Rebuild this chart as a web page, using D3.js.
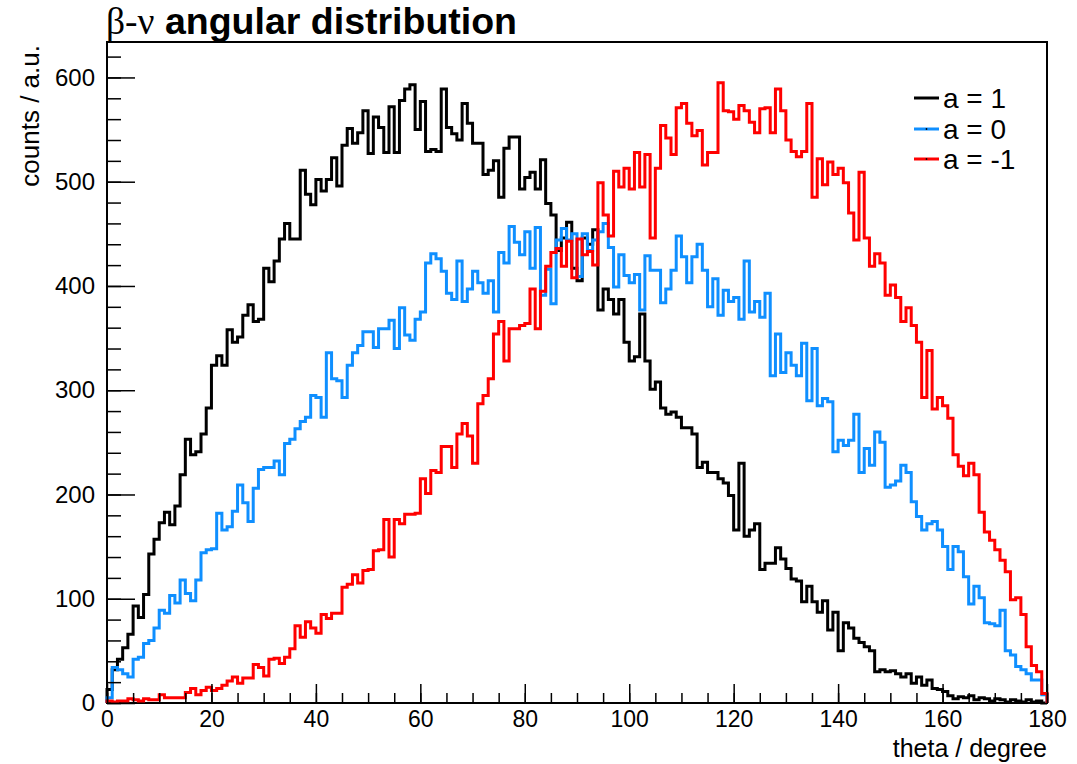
<!DOCTYPE html>
<html>
<head>
<meta charset="utf-8">
<script src="https://cdn.jsdelivr.net/npm/d3@7"></script>
<style>
  html, body { margin: 0; padding: 0; background: #fff; }
  svg { display: block; }
  text { font-family: "Liberation Sans", Arial, Helvetica, sans-serif; fill: #000; }
</style>
</head>
<body>
<svg id="chart" width="1077" height="764"></svg>
<script>
// ---- data (180 bins of 1 degree, 0..180) ----
const binEdges = d3.range(0, 181, 1);
const xTicks = [0, 20, 40, 60, 80, 100, 120, 140, 160, 180];
const yTicks = [0, 100, 200, 300, 400, 500, 600];
const seriesNames = ["a = 1", "a = 0", "a = -1"];

const countsA1 = [
  13, 32, 42, 53, 66, 93, 82, 104, 143, 157, 173, 183, 171, 189, 219, 253, 238, 241, 258, 283,
  324, 333, 324, 358, 346, 351, 372, 382, 366, 368, 417, 404, 424, 445, 460, 445, 445, 511, 488, 478,
  502, 491, 502, 523, 496, 535, 551, 537, 547, 568, 527, 562, 552, 528, 572, 528, 578, 589, 593, 550,
  577, 529, 531, 529, 589, 552, 546, 540, 575, 556, 537, 537, 507, 511, 520, 485, 532, 543, 543, 493,
  504, 509, 493, 521, 479, 468, 434, 446, 461, 417, 405, 446, 440, 454, 377, 397, 387, 373, 387, 346,
  328, 332, 373, 328, 301, 308, 283, 277, 279, 274, 264, 264, 258, 226, 231, 221, 221, 215, 211, 199,
  166, 230, 160, 166, 172, 128, 134, 134, 149, 138, 129, 119, 117, 97, 112, 97, 87, 98, 70, 87,
  50, 77, 72, 62, 58, 54, 50, 30, 32, 30, 31, 28, 25, 28, 19, 25, 17, 22, 14, 13,
  11, 7, 4, 6, 5, 7, 3, 5, 4, 2, 4, 3, 1, 3, 2, 1, 3, 1, 2, 0
];
const countsA0 = [
  5, 34, 32, 28, 25, 42, 44, 57, 60, 72, 89, 86, 103, 96, 118, 105, 98, 118, 144, 147,
  148, 182, 166, 169, 184, 209, 192, 174, 206, 224, 226, 226, 232, 219, 249, 253, 263, 270, 274, 295,
  293, 274, 336, 311, 309, 293, 324, 336, 343, 356, 356, 341, 359, 359, 367, 340, 379, 353, 348, 368,
  375, 422, 431, 426, 414, 393, 387, 424, 385, 397, 414, 403, 393, 405, 375, 432, 422, 457, 442, 430,
  452, 417, 456, 391, 416, 383, 444, 455, 444, 450, 409, 450, 434, 444, 452, 460, 437, 399, 430, 410,
  403, 411, 377, 429, 415, 415, 384, 397, 415, 448, 428, 403, 428, 440, 415, 380, 407, 372, 396, 385,
  389, 368, 424, 375, 385, 370, 393, 314, 354, 317, 336, 324, 314, 345, 290, 340, 285, 292, 289, 241,
  252, 247, 252, 277, 221, 244, 228, 260, 250, 207, 209, 213, 228, 221, 193, 179, 166, 172, 174, 166,
  150, 128, 150, 145, 121, 95, 112, 101, 77, 76, 74, 89, 50, 46, 35, 32, 28, 22, 22, 8
];
const countsAm1 = [
  2, 1, 2, 2, 4, 3, 2, 4, 3, 3, 8, 5, 5, 5, 5, 10, 14, 8, 12, 15,
  12, 14, 17, 21, 25, 19, 24, 24, 37, 34, 26, 42, 43, 38, 44, 52, 74, 63, 78, 72,
  67, 85, 81, 86, 86, 111, 114, 123, 115, 127, 128, 146, 147, 176, 140, 176, 172, 181, 181, 182,
  215, 201, 223, 221, 246, 246, 226, 258, 268, 256, 230, 287, 295, 311, 354, 366, 328, 359, 359, 362,
  364, 397, 359, 395, 419, 432, 436, 419, 443, 408, 445, 430, 433, 420, 499, 468, 448, 510, 495, 513,
  493, 528, 495, 526, 446, 513, 554, 542, 526, 571, 575, 556, 544, 549, 516, 528, 528, 595, 568, 567,
  560, 573, 568, 557, 547, 570, 571, 547, 589, 568, 540, 529, 524, 529, 575, 485, 522, 497, 519, 507,
  513, 499, 470, 444, 509, 446, 419, 431, 422, 391, 401, 389, 366, 379, 362, 346, 293, 338, 282, 293,
  285, 273, 238, 227, 218, 230, 219, 183, 164, 156, 147, 137, 126, 99, 101, 85, 54, 36, 30, 9
];
const seriesCounts = [countsA1, countsA0, countsAm1];
const seriesColors = ["#000000", "#0f8fff", "#ff0000"];

// ---- layout ----
const svg = d3.select("#chart");
const frame = { left: 107, right: 1047, top: 42, bottom: 703 };
const x = d3.scaleLinear().domain([0, 180]).range([frame.left, frame.right]);
const y = d3.scaleLinear().domain([0, 634]).range([frame.bottom, frame.top]);

// frame box
svg.append("rect")
  .attr("x", frame.left).attr("y", frame.top)
  .attr("width", frame.right - frame.left).attr("height", frame.bottom - frame.top)
  .attr("fill", "none").attr("stroke", "#000").attr("stroke-width", 2);

// histograms (step outlines)
const stepLine = d3.line()
  .x(d => x(d[0]))
  .y(d => y(d[1]));

function stepPoints(counts) {
  const pts = [[binEdges[0], 0]];
  counts.forEach((c, i) => {
    pts.push([binEdges[i], c]);
    pts.push([binEdges[i + 1], c]);
  });
  pts.push([binEdges[binEdges.length - 1], 0]);
  return pts;
}

seriesCounts.forEach((counts, k) => {
  svg.append("path")
    .attr("d", stepLine(stepPoints(counts)))
    .attr("fill", "none")
    .attr("stroke", seriesColors[k])
    .attr("stroke-width", 3)
    .attr("stroke-linejoin", "miter");
});

// axes
const tickFont = 23;
const yMinor = svg.append("g").attr("transform", `translate(${frame.left},0)`)
  .call(d3.axisLeft(y).tickValues(d3.range(0, 621, 20)).tickSize(-14).tickFormat(""));
yMinor.select(".domain").remove();
const yMajor = svg.append("g").attr("transform", `translate(${frame.left},0)`)
  .call(d3.axisLeft(y).tickValues(yTicks).tickSize(-28).tickPadding(12));
yMajor.select(".domain").remove();
yMajor.selectAll("text").style("font-size", "24px").style("font-family", "Liberation Sans, Arial, sans-serif");

const xMinor = svg.append("g").attr("transform", `translate(0,${frame.bottom})`)
  .call(d3.axisBottom(x).tickValues(d3.range(0, 181, 5)).tickSize(-10).tickFormat(""));
xMinor.select(".domain").remove();
const xMajor = svg.append("g").attr("transform", `translate(0,${frame.bottom})`)
  .call(d3.axisBottom(x).tickValues(xTicks).tickSize(-19).tickPadding(8));
xMajor.select(".domain").remove();
xMajor.selectAll("text").style("font-size", tickFont + "px").style("font-family", "Liberation Sans, Arial, sans-serif");
svg.selectAll(".tick line").attr("stroke", "#000").attr("stroke-width", 1.5);

// axis titles
svg.append("text")
  .attr("x", frame.right).attr("y", 757)
  .attr("text-anchor", "end")
  .style("font-size", "25px")
  .text("theta / degree");
svg.append("text")
  .attr("transform", `translate(39,${frame.top + 3}) rotate(-90)`)
  .attr("text-anchor", "end")
  .style("font-size", "26px")
  .text("counts / a.u.");

// title
const title = svg.append("text").attr("x", 106).attr("y", 34).style("font-size", "37.5px");
title.append("tspan").style("font-family", "Liberation Serif, Times New Roman, serif").text("β-ν");
title.append("tspan").style("font-weight", "bold").text(" angular distribution");

// legend
const legendRowsY = [98, 129, 159];
seriesNames.forEach((name, k) => {
  const g = svg.append("g");
  g.append("line")
    .attr("x1", 914).attr("x2", 939)
    .attr("y1", legendRowsY[k]).attr("y2", legendRowsY[k])
    .attr("stroke", seriesColors[k]).attr("stroke-width", 3);
  if (k > 0) {
    g.append("circle").attr("cx", 926.5).attr("cy", legendRowsY[k]).attr("r", 0.9).attr("fill", "#000");
  }
  g.append("text")
    .attr("x", 943).attr("y", legendRowsY[k] + 9.5)
    .style("font-size", "28px")
    .text(name);
});
</script>
</body>
</html>
